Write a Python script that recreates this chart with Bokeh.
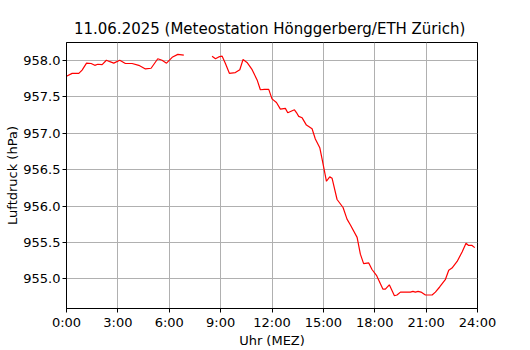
import math
from bokeh.plotting import figure
from bokeh.models import FixedTicker, Range1d, PrintfTickFormatter
from bokeh.embed import file_html
from bokeh.resources import INLINE

# --- data (hours since midnight, pressure in hPa) ---
hours_morning = [0.0, 0.33, 0.72, 0.91, 1.17, 1.44, 1.65, 1.83, 2.08, 2.33, 2.53, 2.76,
                 3.11, 3.44, 3.83, 4.22, 4.61, 4.94, 5.33, 5.58, 5.84, 6.17, 6.50, 6.85]
pressure_morning = [957.78, 957.82, 957.82, 957.865, 957.96, 957.955, 957.93, 957.945,
                    957.94, 958.0, 957.98, 957.96, 958.0, 957.955, 957.955, 957.93,
                    957.88, 957.89, 958.02, 958.0, 957.96, 958.04, 958.08, 958.07]

hours_rest = [8.50, 8.70, 8.89, 9.09, 9.28, 9.51, 9.86, 10.12, 10.31, 10.54,
              10.84, 11.13, 11.32, 11.56, 11.81, 12.0, 12.26, 12.49, 12.78, 12.92,
              13.31, 13.46, 13.56, 13.76, 14.01, 14.34, 14.53, 14.79, 14.92, 15.18,
              15.37, 15.51, 15.80, 16.15, 16.38, 16.58, 16.97, 17.16, 17.35, 17.65,
              17.84, 18.10, 18.48, 18.62, 18.85, 19.15, 19.30, 19.50, 20.08, 20.23,
              20.37, 20.53, 20.70, 20.96, 21.35, 21.54, 21.79, 22.12, 22.32, 22.51,
              22.81, 23.10, 23.33, 23.48, 23.68, 23.84]
pressure_rest = [958.055, 958.02, 958.045, 958.055, 957.955, 957.82, 957.83, 957.87, 958.01, 957.97,
                 957.87, 957.73, 957.595, 957.60, 957.60, 957.47, 957.42, 957.33, 957.34, 957.28,
                 957.32, 957.27, 957.23, 957.21, 957.11, 957.06, 956.92, 956.80, 956.65, 956.34,
                 956.40, 956.38, 956.09, 955.98, 955.82, 955.74, 955.57, 955.34, 955.21, 955.22,
                 955.13, 955.05, 954.86, 954.86, 954.92, 954.77, 954.78, 954.82, 954.82, 954.83,
                 954.82, 954.83, 954.82, 954.78, 954.78, 954.82, 954.89, 954.99, 955.12, 955.15,
                 955.24, 955.37, 955.49, 955.46, 955.46, 955.43]

x_ticks = [0, 3, 6, 9, 12, 15, 18, 21, 24]
x_tick_labels = ["0:00", "3:00", "6:00", "9:00", "12:00", "15:00", "18:00", "21:00", "24:00"]
y_ticks = [955.0, 955.5, 956.0, 956.5, 957.0, 957.5, 958.0]

title_text = "11.06.2025  (Meteostation Hönggerberg/ETH Zürich)"

# data gap between the two segments
xs = hours_morning + [math.nan] + hours_rest
ys = pressure_morning + [math.nan] + pressure_rest

FONT = "DejaVu Sans"

p = figure(width=530, height=350, output_backend="svg", toolbar_location=None,
           x_range=Range1d(0, 24), y_range=Range1d(954.595, 958.243),
           min_border_left=66, min_border_right=53, min_border_top=42, min_border_bottom=38,
           title=title_text)

p.title.text_font = FONT
p.title.text_font_size = "15px"
p.title.text_font_style = "normal"
p.title.text_color = "black"
p.title.align = "center"
p.title.offset = 0

p.line(xs, ys, line_color="#ff0000", line_width=1.2)

p.xaxis.ticker = FixedTicker(ticks=x_ticks)
p.xaxis.major_label_overrides = {t: l for t, l in zip(x_ticks, x_tick_labels)}
p.yaxis.ticker = FixedTicker(ticks=y_ticks)
p.yaxis.formatter = PrintfTickFormatter(format="%.1f")

p.xaxis.axis_label = "Uhr (MEZ)"
p.yaxis.axis_label = "Luftdruck (hPa)"

for ax in (p.xaxis, p.yaxis):
    ax.axis_label_text_font = FONT
    ax.axis_label_text_font_size = "13px"
    ax.axis_label_text_font_style = "normal"
    ax.axis_label_text_color = "black"
    ax.major_label_text_font = FONT
    ax.major_label_text_font_size = "13px"
    ax.major_label_text_color = "black"
    ax.minor_tick_line_color = None
    ax.major_tick_in = 0
    ax.major_tick_out = 4
    ax.major_label_standoff = 2
    ax.axis_label_standoff = 0
    ax.axis_line_color = "black"
    ax.major_tick_line_color = "black"

p.grid.grid_line_color = "#b0b0b0"
p.grid.grid_line_width = 1
p.outline_line_color = "black"
p.outline_line_width = 1
p.outline_line_alpha = 1
p.background_fill_color = "white"
p.border_fill_color = "white"

open("out.html", "w").write(file_html(p, INLINE))
